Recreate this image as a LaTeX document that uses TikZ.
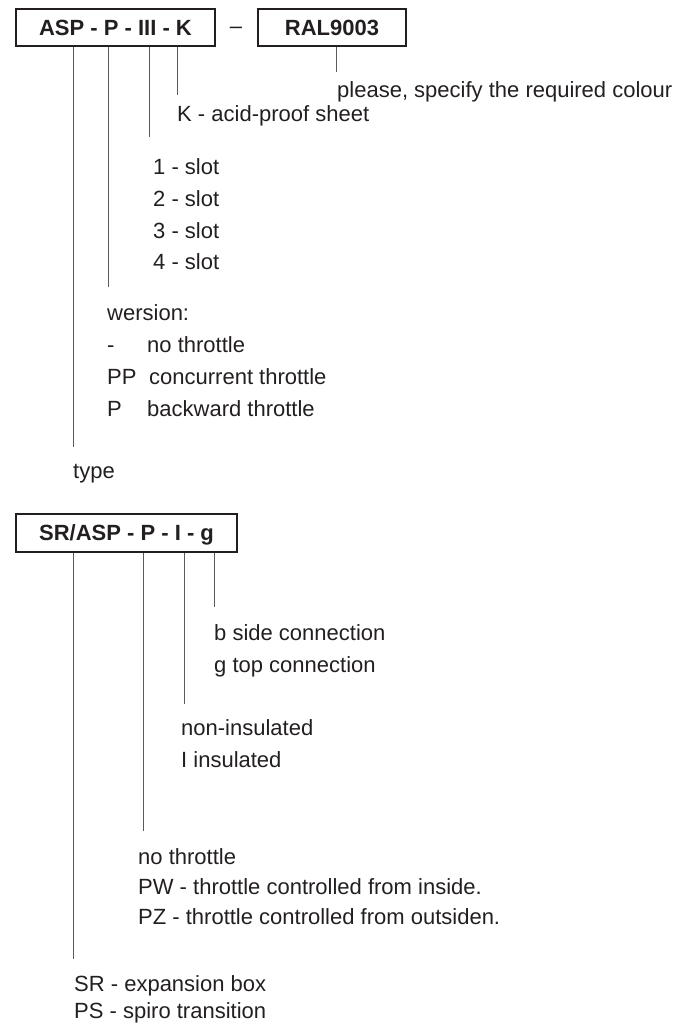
\documentclass[tikz,border=0pt]{standalone}
\usepackage{fontspec}
\setmainfont{Liberation Sans}
\definecolor{ink}{HTML}{231F20}
\definecolor{leadgray}{HTML}{58595B}
\begin{document}
\begin{tikzpicture}[x=1pt,y=-1pt,
  codebox/.style={draw=ink, line width=2pt, inner sep=0pt, text=ink,
    font=\fontsize{22}{26}\selectfont\bfseries,
    text height=15.8pt, text depth=0pt},
  lbl/.style={anchor=base west, inner sep=0pt, text=ink,
    font=\fontsize{22}{26}\selectfont},
  lead/.style={draw=leadgray, line width=1pt}]
\useasboundingbox (0,0) rectangle (684,1027);

% ---------- order code 1 ----------
\node[codebox, minimum width=199pt, minimum height=37pt] (asp) at (115.5,28) {ASP - P - III - K};
\node[anchor=base, inner sep=0pt, text=ink, font=\fontsize{22}{26}\selectfont] (sep) at (236,33.5) {–};
\node[codebox, minimum width=148pt, minimum height=37pt] (ral) at (332,28) {RAL9003};

\coordinate (eK)    at (177,95);
\coordinate (eSlot) at (149,137);
\coordinate (eVer)  at (108,287);
\coordinate (eType) at (73,447);
\coordinate (eCol)  at (336,72);

\draw[lead] (eK    |- asp.south) -- (eK);
\draw[lead] (eSlot |- asp.south) -- (eSlot);
\draw[lead] (eVer  |- asp.south) -- (eVer);
\draw[lead] (eType |- asp.south) -- (eType);
\draw[lead] (eCol  |- ral.south) -- (eCol);

\node[lbl] (col) at (337,98) {please, specify the required colour};
\node[lbl] (acid) at (177,122) {K - acid-proof sheet};

\node[lbl] (s1) at (153,175) {1 - slot};
\node[lbl] (s2) at (153,206.5) {2 - slot};
\node[lbl] (s3) at (153,238) {3 - slot};
\node[lbl] (s4) at (153,269.5) {4 - slot};

\node[lbl] (ver) at (107,320) {wersion:};
\node[lbl] (v1a) at (107,352) {-};
\node[lbl] (v1b) at (147,352) {no throttle};
\node[lbl] (v2a) at (107,384) {PP};
\node[lbl] (v2b) at (149,384) {concurrent throttle};
\node[lbl] (v3a) at (107,416) {P};
\node[lbl] (v3b) at (147,416) {backward throttle};

\node[lbl] (type) at (73,478) {type};

% ---------- order code 2 ----------
\node[codebox, minimum width=221pt, minimum height=38pt] (sr) at (126.5,532.5) {SR/ASP - P - I - g};

\coordinate (eConn) at (214,607);
\coordinate (eIns)  at (184,704);
\coordinate (eThr)  at (143,831);
\coordinate (eBox)  at (73,959);

\draw[lead] (eConn |- sr.south) -- (eConn);
\draw[lead] (eIns  |- sr.south) -- (eIns);
\draw[lead] (eThr  |- sr.south) -- (eThr);
\draw[lead] (eBox  |- sr.south) -- (eBox);

\node[lbl] (c1) at (214,640) {b side connection};
\node[lbl] (c2) at (214,672) {g top connection};

\node[lbl] (i1) at (181,735) {non-insulated};
\node[lbl] (i2) at (181,767) {I insulated};

\node[lbl] (t1) at (138,864) {no throttle};
\node[lbl] (t2) at (138,894) {PW - throttle controlled from inside.};
\node[lbl] (t3) at (138,924) {PZ - throttle controlled from outsiden.};

\node[lbl] (b1) at (74,991) {SR - expansion box};
\node[lbl] (b2) at (74,1018) {PS - spiro transition};
\end{tikzpicture}
\end{document}
